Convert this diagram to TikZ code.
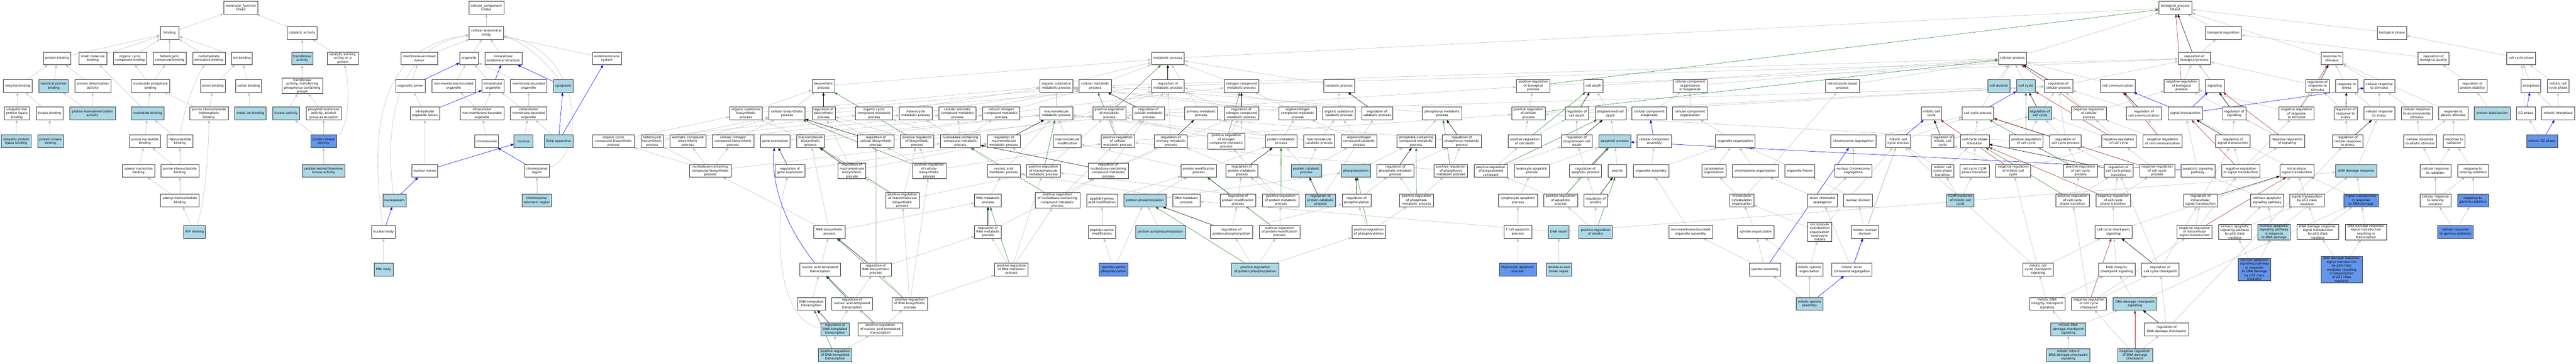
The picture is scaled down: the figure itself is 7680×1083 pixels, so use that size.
\documentclass[tikz,border=0pt]{standalone}
\usepackage{fontspec}
\newfontfamily\gfont{DejaVu Sans}
\usetikzlibrary{arrows.meta,backgrounds}
\definecolor{lbl}{RGB}{173,216,230}
\definecolor{dbl}{RGB}{100,149,237}
\definecolor{egr}{RGB}{192,192,192}
\definecolor{egn}{RGB}{34,139,34}
\definecolor{erd}{RGB}{178,34,34}
\tikzset{
 gw/.style={draw=black!80,line width=0.9pt,fill=white,rectangle,align=center,minimum height=38pt,inner xsep=1.5pt,inner ysep=1.5pt,font=\gfont\fontsize{9.4}{11.4}\selectfont},
 gl/.style={gw,fill=lbl},
 gd/.style={gw,fill=dbl},
 isa/.style={draw=egr,line width=0.9pt,-{Triangle[length=9pt,width=7pt]}},
 partof/.style={draw=blue,line width=0.9pt,-{Triangle[length=9pt,width=7pt]}},
 regl/.style={draw=black,line width=0.9pt,-{Triangle[length=9pt,width=7pt]}},
 posr/.style={draw=egn,line width=0.9pt,-{Triangle[length=9pt,width=7pt]}},
 negr/.style={draw=erd,line width=0.9pt,-{Triangle[length=9pt,width=7pt]}}
}
\begin{document}
\begin{tikzpicture}[x=1pt,y=1pt]
\useasboundingbox (0,0) rectangle (7680,-1083);
% ---------- molecular function ----------
\node[gw,minimum width=102pt] (mf) at (718,-23) {molecular\_function\\Chek2};
\node[gw,minimum width=56pt] (bind) at (505.7,-98) {binding};
\node[gw,minimum width=90pt] (catal) at (900.8,-98) {catalytic activity};
\node[gw,minimum width=81.6pt] (protb) at (170.2,-174) {protein binding};
\node[gw,minimum width=83pt] (smb) at (276.7,-174) {small molecule\\binding};
\node[gw,minimum width=98.8pt] (ocb) at (387.8,-174) {organic cyclic\\compound binding};
\node[gw,minimum width=98.8pt] (hcb) at (505.7,-174) {heterocyclic\\compound binding};
\node[gw,minimum width=97pt] (cdb) at (622.9,-174) {carbohydrate\\derivative binding};
\node[gw,minimum width=61.6pt] (ionb) at (721,-174) {ion binding};
\node[gl,minimum width=63pt] (trans) at (900.8,-174) {transferase\\activity};
\node[gw,minimum width=92.2pt] (catp) at (1022,-174) {catalytic activity,\\acting on a\\protein};
\node[gw,minimum width=86.5pt] (enzb) at (53.1,-256) {enzyme binding};
\node[gl,minimum width=87.8pt] (idpb) at (159.8,-256) {identical protein\\binding};
\node[gw,minimum width=108.6pt] (pda) at (276.7,-256) {protein dimerization\\activity};
\node[gw,minimum width=115.5pt] (npb) at (448.4,-256) {nucleoside phosphate\\binding};
\node[gw,minimum width=73.8pt] (anb) at (634.5,-256) {anion binding};
\node[gw,minimum width=77pt] (catb) at (741,-256) {cation binding};
\node[gw,minimum width=121pt] (tpg) at (901,-256) {transferase\\activity, transferring\\phosphorus-containing\\groups};
\node[gw,minimum width=74.3pt] (ulpl) at (50.2,-338) {ubiquitin-like\\protein ligase\\binding};
\node[gw,minimum width=80pt] (kinb) at (147.3,-338) {kinase binding};
\node[gl,minimum width=136.7pt] (phda) at (275.7,-338) {protein homodimerization\\activity};
\node[gl,minimum width=98.4pt] (nucb) at (439.8,-338) {nucleotide binding};
\node[gw,minimum width=115pt] (prtb) at (622.9,-338) {purine ribonucleoside\\triphosphate\\binding};
\node[gl,minimum width=93.5pt] (metb) at (746.3,-338) {metal ion binding};
\node[gl,minimum width=80pt] (kina) at (853,-338) {kinase activity};
\node[gw,minimum width=105pt] (ptaa) at (964.7,-338) {phosphotransferase\\activity, alcohol\\group as acceptor};
\node[gl,minimum width=88.6pt] (uplb) at (48,-421) {ubiquitin protein\\ligase binding};
\node[gl,minimum width=77pt] (pkb) at (150.4,-421) {protein kinase\\binding};
\node[gw,minimum width=92.7pt] (pnb) at (431.6,-421) {purine nucleotide\\binding};
\node[gw,minimum width=77pt] (rnb) at (536.1,-421) {ribonucleotide\\binding};
\node[gd,minimum width=77pt] (pka) at (964.7,-421) {protein kinase\\activity};
\node[gw,minimum width=96.7pt] (adnb) at (412.9,-509) {adenyl nucleotide\\binding};
\node[gw,minimum width=113pt] (prb) at (536.1,-509) {purine ribonucleotide\\binding};
\node[gl,minimum width=127.8pt] (psk) at (964.7,-509) {protein serine/threonine\\kinase activity};
\node[gw,minimum width=115.5pt] (arb) at (536.1,-597) {adenyl ribonucleotide\\binding};
\node[gl,minimum width=65pt] (atp) at (579.8,-691) {ATP binding};
% ---------- cellular component ----------
\node[gw,minimum width=104.5pt] (cc) at (1449.8,-23) {cellular\_component\\Chek2};
\node[gw,minimum width=102pt] (cae) at (1449.8,-98) {cellular anatomical\\entity};
\node[gw,minimum width=109.4pt] (mel) at (1250.2,-174) {membrane-enclosed\\lumen};
\node[gw,minimum width=56.3pt] (org) at (1398.4,-174) {organelle};
\node[gw,minimum width=111pt] (ias) at (1500.8,-174) {intracellular\\anatomical structure};
\node[gw,minimum width=85.7pt] (ems) at (1809.4,-174) {endomembrane\\system};
\node[gw,minimum width=87.8pt] (ol) at (1223.9,-256) {organelle lumen};
\node[gw,minimum width=129.8pt] (nmbo) at (1352.7,-256) {non-membrane-bounded\\organelle};
\node[gw,minimum width=65pt] (io) at (1469.6,-256) {intracellular\\organelle};
\node[gw,minimum width=108.6pt] (mbo) at (1575.9,-256) {membrane-bounded\\organelle};
\node[gl,minimum width=58.8pt] (cyto) at (1678.8,-256) {cytoplasm};
\node[gw,minimum width=87.7pt] (iol) at (1266.7,-338) {intracellular\\organelle lumen};
\node[gw,minimum width=129.8pt] (inmbo) at (1437.1,-338) {intracellular\\non-membrane-bounded\\organelle};
\node[gw,minimum width=108.6pt] (imbo) at (1575.9,-338) {intracellular\\membrane-bounded\\organelle};
\node[gw,minimum width=70.6pt] (chr) at (1450.8,-421) {chromosome};
\node[gl,minimum width=56.3pt] (nuc) at (1560.4,-421) {nucleus};
\node[gl,minimum width=85.3pt] (golgi) at (1665.1,-421) {Golgi apparatus};
\node[gw,minimum width=77.5pt] (nl) at (1266.5,-509) {nuclear lumen};
\node[gw,minimum width=73.5pt] (chrr) at (1600.4,-509) {chromosomal\\region};
\node[gl,minimum width=69.4pt] (np) at (1175.9,-597) {nucleoplasm};
\node[gl,minimum width=88.2pt] (telo) at (1600.4,-597) {chromosome,\\telomeric region};
\node[gw,minimum width=71pt] (nb) at (1143.3,-691) {nuclear body};
\node[gl,minimum width=56.7pt] (pml) at (1143.5,-803) {PML body};
% ---------- biosynthesis ----------
\node[gw,minimum width=67.8pt] (biosyn) at (2455.1,-256) {biosynthetic\\process};
\node[gw,minimum width=96.3pt] (osbp) at (2224.1,-338) {organic substance\\biosynthetic\\process};
\node[gw,minimum width=108.2pt] (cbp) at (2346.3,-338) {cellular biosynthetic\\process};
\node[gw,minimum width=69.4pt] (rbp) at (2455.1,-338) {regulation of\\biosynthetic\\process};
\node[gw,minimum width=110.6pt] (ocmp) at (2605.9,-338) {organic cyclic\\compound metabolic\\process};
\node[gw,minimum width=123.7pt] (ocbp) at (1829.2,-421) {organic cyclic\\compound biosynthetic\\process};
\node[gw,minimum width=67.4pt] (hbp) at (1944.3,-421) {heterocycle\\biosynthetic\\process};
\node[gw,minimum width=106.5pt] (acbp) at (2050.8,-421) {aromatic compound\\biosynthetic\\process};
\node[gw,minimum width=123.7pt] (cncbp) at (2185.5,-421) {cellular nitrogen\\compound biosynthetic\\process};
\node[gw,minimum width=88.2pt] (gexp) at (2311,-421) {gene expression};
\node[gw,minimum width=83.7pt] (mbp) at (2416.5,-421) {macromolecule\\biosynthetic\\process};
\node[gw,minimum width=108.6pt] (rcbp) at (2611,-421) {regulation of\\cellular biosynthetic\\process};
\node[gw,minimum width=124pt] (ncbp) at (2117.6,-509) {nucleobase-containing\\compound biosynthetic\\process};
\node[gw,minimum width=88.6pt] (rge) at (2354.9,-509) {regulation of\\gene expression};
\node[gw,minimum width=83.2pt] (rmbp) at (2540,-509) {regulation of\\macromolecule\\biosynthetic\\process};
\node[gw,minimum width=93pt] (rnabp) at (2473,-691) {RNA biosynthetic\\process};
\node[gw,minimum width=120.8pt] (nat) at (2444.9,-803) {nucleic acid-templated\\transcription};
\node[gw,minimum width=83.7pt] (dtt) at (2418.6,-905) {DNA-templated\\transcription};
\node[gw,minimum width=121.2pt] (rnat) at (2540.2,-905) {regulation of\\nucleic acid-templated\\transcription};
\node[gl,minimum width=83.7pt] (rdtt) at (2489.6,-981) {regulation of\\DNA-templated\\transcription};
\node[gw,minimum width=134.2pt] (prnat) at (2624.7,-981) {positive regulation\\of nucleic acid-templated\\transcription};
\node[gl,minimum width=100.4pt] (prdtt) at (2489.8,-1058) {positive regulation\\of DNA-templated\\transcription};
% ---------- metabolism ----------
\node[gw,minimum width=97.6pt] (osmp) at (3149.2,-256) {organic substance\\metabolic process};
\node[gw,minimum width=98pt] (hmp) at (2730.2,-338) {heterocycle\\metabolic process};
\node[gw,minimum width=111pt] (camp) at (2854.7,-338) {cellular aromatic\\compound metabolic\\process};
\node[gw,minimum width=111.4pt] (cncmp) at (2985.1,-338) {cellular nitrogen\\compound metabolic\\process};
\node[gw,minimum width=97.6pt] (mmp) at (3149.2,-338) {macromolecule\\metabolic process};
\node[gw,minimum width=99.6pt] (prbp) at (2734.3,-421) {positive regulation\\of biosynthetic\\process};
\node[gw,minimum width=118.4pt] (ncmp) at (2863.3,-421) {nucleobase-containing\\compound metabolic\\process};
\node[gw,minimum width=98pt] (rmmp) at (2992.7,-421) {regulation of\\macromolecule\\metabolic process};
\node[gw,minimum width=83.3pt] (mmod) at (3182,-421) {macromolecule\\modification};
\node[gw,minimum width=100pt] (prcbp) at (2770,-509) {positive regulation\\of cellular\\biosynthetic\\process};
\node[gw,minimum width=98pt] (namp) at (2992.7,-509) {nucleic acid\\metabolic process};
\node[gw,minimum width=100pt] (prmmp) at (3110.8,-509) {positive regulation\\of macromolecule\\metabolic process};
\node[gw,minimum width=100pt] (prmbp) at (2690.4,-597) {positive regulation\\of macromolecule\\biosynthetic\\process};
\node[gw,minimum width=79.6pt] (rnamp) at (2945.5,-597) {RNA metabolic\\process};
\node[gw,minimum width=133.5pt] (prncmp) at (3152.5,-597) {positive regulation\\of nucleobase-containing\\compound metabolic\\process};
\node[gw,minimum width=79.6pt] (rrnamp) at (2945.5,-691) {regulation of\\RNA metabolic\\process};
\node[gw,minimum width=92.2pt] (rrnabp) at (2611,-803) {regulation of\\RNA biosynthetic\\process};
\node[gw,minimum width=100pt] (prrnamp) at (3015.3,-803) {positive regulation\\of RNA metabolic\\process};
\node[gw,minimum width=104.9pt] (prrnabp) at (2712.4,-905) {positive regulation\\of RNA biosynthetic\\process};
\node[gw,minimum width=98pt] (mp) at (3481.6,-174) {metabolic process};
\node[gw,minimum width=96pt] (cmp) at (3265.5,-256) {cellular metabolic\\process};
\node[gw,minimum width=98pt] (rmp) at (3481.6,-256) {regulation of\\metabolic process};
\node[gw,minimum width=102.9pt] (nitmp) at (3701.2,-256) {nitrogen compound\\metabolic process};
\node[gw,minimum width=99.6pt] (prmp) at (3307.3,-338) {positive regulation\\of metabolic\\process};
\node[gw,minimum width=96pt] (rcmp) at (3424.3,-338) {regulation of\\cellular metabolic\\process};
\node[gw,minimum width=98.4pt] (pmp) at (3581,-338) {primary metabolic\\process};
\node[gw,minimum width=102.9pt] (rnitmp) at (3701.2,-338) {regulation of\\nitrogen compound\\metabolic process};
\node[gw,minimum width=111.5pt] (oncmp) at (3868.8,-338) {organonitrogen\\compound metabolic\\process};
\node[gw,minimum width=100pt] (prcmp) at (3332.4,-421) {positive regulation\\of cellular\\metabolic process};
\node[gw,minimum width=98.4pt] (rpmp) at (3490.8,-421) {regulation of\\primary metabolic\\process};
\node[gw,minimum width=110.2pt] (prnitmp) at (3656.3,-421) {positive regulation\\of nitrogen\\compound metabolic\\process};
\node[gw,minimum width=94.7pt] (protmp) at (3819.6,-421) {protein metabolic\\process};
\node[gw,minimum width=119.6pt] (rncmp) at (3304.3,-509) {regulation of\\nucleobase-containing\\compound metabolic\\process};
\node[gw,minimum width=106.5pt] (pmodp) at (3574,-509) {protein modification\\process};
\node[gw,minimum width=94.3pt] (rprotmp) at (3702.2,-509) {regulation of\\protein metabolic\\process};
\node[gw,minimum width=92.2pt] (paam) at (3285.3,-597) {peptidyl-amino\\acid modification};
\node[gl,minimum width=126pt] (pphos) at (3413.7,-597) {protein phosphorylation};
\node[gw,minimum width=81.2pt] (dnamp) at (3537.3,-597) {DNA metabolic\\process};
\node[gw,minimum width=107pt] (rpmodp) at (3690.6,-597) {regulation of\\protein modification\\process};
\node[gw,minimum width=109pt] (prprotmp) at (3818.5,-597) {positive regulation\\of protein metabolic\\process};
\node[gw,minimum width=81.6pt] (psm) at (3285.3,-691) {peptidyl-serine\\modification};
\node[gl,minimum width=149pt] (pauto) at (3459.8,-691) {protein autophosphorylation};
\node[gw,minimum width=126pt] (rpphos) at (3671.2,-691) {regulation of\\protein phosphorylation};
\node[gw,minimum width=121.2pt] (prpmodp) at (3814.5,-691) {positive regulation\\of protein modification\\process};
\node[gd,minimum width=86.5pt] (psp) at (3320,-803) {peptidyl-serine\\phosphorylation};
\node[gl,minimum width=140pt] (prpphos) at (3742.2,-803) {positive regulation\\of protein phosphorylation};
\node[gw,minimum width=92.7pt] (catab) at (3992,-256) {catabolic process};
\node[gw,minimum width=96.3pt] (oscp) at (3991.8,-338) {organic substance\\catabolic process};
\node[gw,minimum width=92.7pt] (rcatp) at (4105.9,-338) {regulation of\\catabolic process};
\node[gw,minimum width=118pt] (phmp) at (4299.4,-338) {phosphorus metabolic\\process};
\node[gw,minimum width=92.7pt] (mcp) at (3932.4,-421) {macromolecule\\catabolic process};
\node[gw,minimum width=107.3pt] (onccp) at (4051.6,-421) {organonitrogen\\compound catabolic\\process};
\node[gw,minimum width=115pt] (pccmp) at (4222,-421) {phosphate-containing\\compound metabolic\\process};
\node[gw,minimum width=117.6pt] (rphmp) at (4358,-421) {regulation of\\phosphorus metabolic\\process};
\node[gl,minimum width=90.2pt] (pcp) at (3894.5,-509) {protein catabolic\\process};
\node[gl,minimum width=86.5pt] (phos) at (4042.4,-509) {phosphorylation};
\node[gw,minimum width=111pt] (rpcmp) at (4160.4,-509) {regulation of\\phosphate metabolic\\process};
\node[gw,minimum width=100pt] (prphmp) at (4325.5,-509) {positive regulation\\of phosphorus\\metabolic process};
\node[gw,minimum width=100.4pt] (prpcd) at (4444.5,-509) {positive regulation\\of programmed\\cell death};
\node[gl,minimum width=89.8pt] (rpcp) at (3936.7,-597) {regulation of\\protein catabolic\\process};
\node[gw,minimum width=86pt] (rphos) at (4044.3,-597) {regulation of\\phosphorylation};
\node[gw,minimum width=100.4pt] (prpcmp) at (4222.9,-597) {positive regulation\\of phosphate\\metabolic process};
\node[gw,minimum width=116pt] (lap) at (4525.3,-597) {lymphocyte apoptotic\\process};
\node[gw,minimum width=100.8pt] (prphos) at (4080.6,-691) {positive regulation\\of phosphorylation};
\node[gd,minimum width=111pt] (thap) at (4524.9,-803) {thymocyte apoptotic\\process};
% ---------- cell death / organization ----------
\node[gw,minimum width=100.4pt] (prbio) at (4571,-256) {positive regulation\\of biological\\process};
\node[gw,minimum width=56.7pt] (cd) at (4750.8,-256) {cell death};
\node[gw,minimum width=101.6pt] (ccob) at (5038.6,-256) {cellular component\\organization\\or biogenesis};
\node[gw,minimum width=100pt] (prcp) at (4556.5,-338) {positive regulation\\of cellular\\process};
\node[gw,minimum width=69.4pt] (rcd) at (4700.8,-338) {regulation of\\cell death};
\node[gw,minimum width=92.2pt] (pcd) at (4801.2,-338) {programmed cell\\death};
\node[gw,minimum width=102.9pt] (ccb) at (4917.1,-338) {cellular component\\biogenesis};
\node[gw,minimum width=102.4pt] (cco) at (5038.2,-338) {cellular component\\organization};
\node[gw,minimum width=100.4pt] (prcd) at (4546.1,-421) {positive regulation\\of cell death};
\node[gw,minimum width=92.2pt] (rpcd) at (4700.8,-421) {regulation of\\programmed cell\\death};
\node[gl,minimum width=94.7pt] (ap) at (4813.9,-421) {apoptotic process};
\node[gw,minimum width=102.4pt] (cca) at (4932,-421) {cellular component\\assembly};
\node[gw,minimum width=119.2pt] (oo) at (5173.1,-421) {organelle organization};
\node[gw,minimum width=104.9pt] (lkap) at (4567.1,-509) {leukocyte apoptotic\\process};
\node[gw,minimum width=94.7pt] (rap) at (4726.9,-509) {regulation of\\apoptotic process};
\node[gw,minimum width=56.3pt] (anoi) at (4822,-509) {anoikis};
\node[gw,minimum width=105.3pt] (oa) at (4922.4,-509) {organelle assembly};
\node[gw,minimum width=72.3pt] (cso) at (5109.2,-509) {cytoskeleton\\organization};
\node[gw,minimum width=100.4pt] (prap) at (4652.7,-597) {positive regulation\\of apoptotic\\process};
\node[gw,minimum width=69.8pt] (ranoi) at (4757.3,-597) {regulation of\\anoikis};
\node[gw,minimum width=84pt] (tcap) at (4525.3,-691) {T cell apoptotic\\process};
\node[gl,minimum width=61.2pt] (dnar) at (4647.3,-691) {DNA repair};
\node[gl,minimum width=100.4pt] (pranoi) at (4757.1,-691) {positive regulation\\of anoikis};
\node[gw,minimum width=129.8pt] (nmboa) at (5040.4,-691) {non-membrane-bounded\\organelle assembly};
\node[gl,minimum width=75.5pt] (dsbr) at (4647.6,-803) {double-strand\\break repair};
\node[gw,minimum width=100.4pt] (mtbp) at (5493,-256) {microtubule-based\\process};
\node[gw,minimum width=60.4pt] (mcc) at (5758.4,-338) {mitotic cell\\cycle};
\node[gw,minimum width=134.3pt] (cseg) at (5525.5,-421) {chromosome segregation};
\node[gw,minimum width=73.5pt] (mccp) at (5659.2,-421) {mitotic cell\\cycle process};
\node[gw,minimum width=67.3pt] (rmcc) at (5791.6,-421) {regulation of\\mitotic cell\\cycle};
\node[gw,minimum width=138.4pt] (chro) at (5232.9,-509) {chromosome organization};
\node[gw,minimum width=89pt] (ofis) at (5365.7,-509) {organelle fission};
\node[gw,minimum width=111.4pt] (ncs) at (5525.5,-509) {nuclear chromosome\\segregation};
\node[gw,minimum width=65.3pt] (mccpt) at (5791.9,-509) {mitotic cell\\cycle phase\\transition};
\node[gw,minimum width=71pt] (mco) at (5193,-597) {microtubule\\cytoskeleton\\organization};
\node[gw,minimum width=88.2pt] (scs) at (5433.5,-597) {sister chromatid\\segregation};
\node[gw,minimum width=86pt] (nd) at (5539.4,-597) {nuclear division};
\node[gw,minimum width=108.6pt] (so) at (5234.7,-691) {spindle organization};
\node[gw,minimum width=71.4pt] (mcoim) at (5425.1,-691) {microtubule\\cytoskeleton\\organization\\involved in\\mitosis};
\node[gw,minimum width=81.6pt] (mnd) at (5560,-691) {mitotic nuclear\\division};
\node[gw,minimum width=94.3pt] (sa) at (5261.8,-803) {spindle assembly};
\node[gw,minimum width=80pt] (mso) at (5394.7,-803) {mitotic spindle\\organization};
\node[gw,minimum width=120pt] (mscs) at (5521.2,-803) {mitotic sister\\chromatid segregation};
\node[gl,minimum width=80pt] (msa) at (5394.7,-905) {mitotic spindle\\assembly};
% ---------- cell cycle ----------
\node[gw,minimum width=83.7pt] (cp) at (5999.8,-174) {cellular process};
\node[gl,minimum width=65.3pt] (cdiv) at (5959.2,-256) {cell division};
\node[gl,minimum width=56pt] (ccyc) at (6039.8,-256) {cell cycle};
\node[gw,minimum width=84.5pt] (rcp) at (6136.9,-256) {regulation of\\cellular process};
\node[gw,minimum width=105pt] (ccom) at (6313.7,-256) {cell communication};
\node[gw,minimum width=93.9pt] (ccp) at (5896.7,-338) {cell cycle process};
\node[gl,minimum width=69.4pt] (rcc) at (6081.6,-338) {regulation of\\cell cycle};
\node[gw,minimum width=104pt] (nrcp) at (6227.6,-338) {negative regulation\\of cellular\\process};
\node[gw,minimum width=104.4pt] (rccom) at (6391.8,-338) {regulation of\\cell communication};
\node[gw,minimum width=85.3pt] (ccpt) at (5887.6,-421) {cell cycle phase\\transition};
\node[gw,minimum width=100pt] (prcc) at (6040.6,-421) {positive regulation\\of cell cycle};
\node[gw,minimum width=93.9pt] (rccp) at (6158,-421) {regulation of\\cell cycle process};
\node[gw,minimum width=104pt] (nrcc) at (6317,-421) {negative regulation\\of cell cycle};
\node[gw,minimum width=117.5pt] (nrccom) at (6447.3,-421) {negative regulation\\of cell communication};
\node[gw,minimum width=86.5pt] (g2mpt) at (5886.9,-509) {cell cycle G2/M\\phase transition};
\node[gw,minimum width=104.5pt] (nrmcc) at (6002,-509) {negative regulation\\of mitotic cell\\cycle};
\node[gw,minimum width=100pt] (prccp) at (6202.7,-509) {positive regulation\\of cell cycle\\process};
\node[gw,minimum width=86pt] (rccpt) at (6315.7,-509) {regulation of\\cell cycle phase\\transition};
\node[gw,minimum width=104.9pt] (nrccp) at (6431.2,-509) {negative regulation\\of cell cycle\\process};
\node[gl,minimum width=81.6pt] (g2m) at (5844.5,-597) {G2/M transition\\of mitotic cell\\cycle};
\node[gw,minimum width=100.4pt] (prccpt) at (6178.8,-597) {positive regulation\\of cell cycle\\phase transition};
\node[gw,minimum width=104pt] (nrccpt) at (6300.2,-597) {negative regulation\\of cell cycle\\phase transition};
\node[gw,minimum width=111.4pt] (cccs) at (6301,-691) {cell cycle checkpoint\\signaling};
\node[gw,minimum width=89.8pt] (mcccs) at (6076.3,-803) {mitotic cell\\cycle checkpoint\\signaling};
\node[gw,minimum width=109pt] (dics) at (6310.4,-803) {DNA integrity\\checkpoint signaling};
\node[gw,minimum width=111.8pt] (rcccs) at (6440.4,-803) {regulation of\\cell cycle checkpoint};
\node[gw,minimum width=106pt] (mdics) at (6103.3,-905) {mitotic DNA\\integrity checkpoint\\signaling};
\node[gw,minimum width=104pt] (nrcccs) at (6227.6,-905) {negative regulation\\of cell cycle\\checkpoint};
\node[gl,minimum width=129.8pt] (ddcs) at (6364.9,-905) {DNA damage checkpoint\\signaling};
\node[gl,minimum width=105pt] (mddcs) at (6166.3,-981) {mitotic DNA\\damage checkpoint\\signaling};
\node[gw,minimum width=131pt] (rddc) at (6459.4,-981) {regulation of\\DNA damage checkpoint};
\node[gl,minimum width=129.4pt] (mis) at (6166.3,-1058) {mitotic intra-S\\DNA damage checkpoint\\signaling};
\node[gl,minimum width=104.4pt] (nrddc) at (6364.9,-1058) {negative regulation\\of DNA damage\\checkpoint};
% ---------- signaling / response ----------
\node[gw,minimum width=98.8pt] (bp) at (6485.3,-23) {biological\_process\\Chek2};
\node[gw,minimum width=108.2pt] (breg) at (6628.4,-98) {biological regulation};
\node[gw,minimum width=95.5pt] (rbio) at (6542.4,-174) {regulation of\\biological process};
\node[gw,minimum width=65.3pt] (rts) at (6952.2,-174) {response to\\stimulus};
\node[gw,minimum width=104pt] (nrbio) at (6503.9,-256) {negative regulation\\of biological\\process};
\node[gw,minimum width=56.3pt] (sig) at (6602.9,-256) {signaling};
\node[gw,minimum width=69.4pt] (rrts) at (6909.4,-256) {regulation of\\response to\\stimulus};
\node[gw,minimum width=65pt] (rtstr) at (6996.1,-256) {response to\\stress};
\node[gw,minimum width=102.4pt] (st) at (6515.3,-338) {signal transduction};
\node[gw,minimum width=69pt] (rsig) at (6660.6,-338) {regulation of\\signaling};
\node[gw,minimum width=104pt] (nrrts) at (6846.7,-338) {negative regulation\\of response\\to stimulus};
\node[gw,minimum width=68.6pt] (rrtstr) at (6993,-338) {regulation of\\response to\\stress};
\node[gw,minimum width=102pt] (rst) at (6656.7,-421) {regulation of\\signal transduction};
\node[gw,minimum width=103.3pt] (nrsig) at (6818.6,-421) {negative regulation\\of signaling};
\node[gw,minimum width=91.4pt] (rcrs) at (6999.2,-421) {regulation of\\cellular response\\to stress};
\node[gw,minimum width=101.6pt] (asp) at (6552.4,-509) {apoptotic signaling\\pathway};
\node[gw,minimum width=114.7pt] (nrst) at (6680.6,-509) {negative regulation\\of signal transduction};
\node[gw,minimum width=102pt] (ist) at (6847.8,-509) {intracellular\\signal transduction};
\node[gl,minimum width=121.6pt] (ddr) at (7024.5,-509) {DNA damage response};
\node[gw,minimum width=101.6pt] (rist) at (6560.2,-597) {regulation of\\intracellular\\signal transduction};
\node[gw,minimum width=97.6pt] (iasp) at (6759,-597) {intrinsic apoptotic\\signaling pathway};
\node[gw,minimum width=102pt] (stp53) at (6878,-597) {signal transduction\\by p53 class\\mediator};
\node[gd,minimum width=102.4pt] (stdd) at (7039,-597) {signal transduction\\in response\\to DNA damage};
\node[gw,minimum width=104pt] (nrist) at (6542.7,-691) {negative regulation\\of intracellular\\signal transduction};
\node[gw,minimum width=98pt] (iaspp53) at (6662.9,-691) {intrinsic apoptotic\\signaling pathway\\by p53 class\\mediator};
\node[gl,minimum width=98pt] (iaspdd) at (6779.6,-691) {intrinsic apoptotic\\signaling pathway\\in response\\to DNA damage};
\node[gw,minimum width=123.3pt] (ddrp53) at (6910.2,-691) {DNA damage response,\\signal transduction\\by p53 class\\mediator};
\node[gw,minimum width=123.7pt] (ddrtr) at (7053.7,-691) {DNA damage response,\\signal transduction\\resulting in\\transcription};
\node[gd,minimum width=98pt] (iaspddp53) at (6721.2,-803) {intrinsic apoptotic\\signaling pathway\\in response\\to DNA damage\\by p53 class\\mediator};
\node[gd,minimum width=123.7pt] (ddrp21) at (6981.5,-803) {DNA damage response,\\signal transduction\\by p53 class\\mediator resulting\\in transcription\\of p21 class\\mediator};
\node[gw,minimum width=87.8pt] (bph) at (7131.2,-98) {biological phase};
\node[gw,minimum width=91.8pt] (rbq) at (7255.3,-174) {regulation of\\biological quality};
\node[gw,minimum width=86.1pt] (ccph) at (7516.5,-174) {cell cycle phase};
\node[gw,minimum width=91.4pt] (crstim) at (7093.5,-256) {cellular response\\to stimulus};
\node[gw,minimum width=85.7pt] (rps) at (7371.4,-256) {regulation of\\protein stability};
\node[gw,minimum width=58.4pt] (inter) at (7545.9,-256) {interphase};
\node[gw,minimum width=65.3pt] (mccph) at (7626.5,-256) {mitotic cell\\cycle phase};
\node[gw,minimum width=91.8pt] (crstr) at (7093.3,-338) {cellular response\\to stress};
\node[gw,minimum width=92.2pt] (cres) at (7205.3,-338) {cellular response\\to environmental\\stimulus};
\node[gw,minimum width=86.5pt] (rabs) at (7313.9,-338) {response to\\abiotic stimulus};
\node[gl,minimum width=106.5pt] (pstab) at (7430,-338) {protein stabilization};
\node[gw,minimum width=56.3pt] (g2) at (7530.2,-338) {G2 phase};
\node[gw,minimum width=97.6pt] (mint) at (7626.7,-338) {mitotic interphase};
\node[gw,minimum width=98.4pt] (cras) at (7214.9,-421) {cellular response\\to abiotic stimulus};
\node[gw,minimum width=64.5pt] (rrad) at (7315.9,-421) {response to\\radiation};
\node[gd,minimum width=91.8pt] (mg2) at (7578.6,-421) {mitotic G2 phase};
\node[gw,minimum width=92.2pt] (crrad) at (7260.8,-509) {cellular response\\to radiation};
\node[gw,minimum width=91.8pt] (rir) at (7372.9,-509) {response to\\ionizing radiation};
\node[gw,minimum width=92.2pt] (crir) at (7260.8,-597) {cellular response\\to ionizing\\radiation};
\node[gd,minimum width=92.2pt] (rgr) at (7372.9,-597) {response to\\gamma radiation};
\node[gd,minimum width=105.7pt] (crgr) at (7320.2,-691) {cellular response\\to gamma radiation};
% ---------- edges ----------
\begin{scope}[on background layer]
\fill[white] (0,0) rectangle (7680,-1083);
\foreach \a/\b in {bind/mf,catal/mf,protb/bind,smb/bind,ocb/bind,hcb/bind,cdb/bind,ionb/bind,trans/catal,catp/catal,enzb/protb,idpb/protb,pda/protb,npb/ocb,npb/hcb,anb/ionb,catb/ionb,tpg/trans,ulpl/enzb,kinb/enzb,phda/idpb,phda/pda,nucb/npb,nucb/smb,prtb/npb,prtb/anb,metb/catb,kina/tpg,ptaa/tpg,uplb/ulpl,pkb/kinb,pnb/nucb,rnb/nucb,pka/kina,pka/ptaa,adnb/pnb,prb/pnb,prb/rnb,psk/pka,arb/adnb,arb/prb,atp/arb}
  \draw[isa] (\a) -- (\b);
\draw[isa] (rnb) .. controls (545,-330) and (585,-230) .. (cdb);
\draw[isa] (pka) .. controls (1040,-390) and (1045,-260) .. (catp);
\draw[isa] (atp) .. controls (612,-600) and (622,-450) .. (prtb);
\foreach \a/\b in {cae/cc,mel/cae,org/cae,ias/cae,ems/cae,ol/mel,nmbo/org,io/org,mbo/org,iol/ol,inmbo/nmbo,inmbo/io,imbo/io,imbo/mbo,chr/inmbo,nuc/imbo,golgi/imbo,nl/iol,telo/chrr,pml/nb}
  \draw[isa] (\a) -- (\b);
\draw[isa] (nb) .. controls (1108,-420) and (1110,-140) .. (cae);
\draw[isa] (np) .. controls (1150,-420) and (1160,-140) .. (cae);
\draw[isa] (chrr) .. controls (1745,-470) and (1745,-150) .. (cae);
\draw[isa] (cyto) .. controls (1640,-200) and (1570,-125) .. (cae);
\foreach \a/\b in {breg/bp,cp/bp,mp/bp,rts/bp,bph/bp,sig/rbio,rbio/breg,nrbio/rbio,rcp/rbio,prbio/rbio,rmp/rbio,rbq/breg,cdiv/cp,ccyc/cp,ccom/cp,ccp/cp,cd/cp,ccob/cp,mtbp/cp,cmp/cp,cmp/mp,nitmp/mp,pmp/mp,osmp/mp,biosyn/mp,catab/mp,osbp/biosyn,cbp/biosyn,osbp/osmp,cbp/cmp,ocbp/osbp,ocbp/ocmp,hbp/cbp,hbp/hmp,acbp/cbp,acbp/camp,cncbp/cbp,cncbp/cncmp,mbp/osbp,mbp/mmp,gexp/mmp,ncbp/hbp,ncbp/acbp,ncbp/cncbp,ncbp/ocbp,ncbp/ncmp,rnabp/ncbp,rnabp/mbp,rnabp/rnamp,nat/rnabp,dtt/nat,ocmp/osmp,hmp/cmp,camp/cmp,cncmp/cmp,cncmp/nitmp,mmp/osmp,ncmp/hmp,ncmp/camp,ncmp/cncmp,ncmp/ocmp,namp/ncmp,namp/mmp,rnamp/namp,dnamp/namp,mmod/mmp,oncmp/osmp,oncmp/nitmp,protmp/oncmp,protmp/pmp,protmp/mmp,pmodp/protmp,pmodp/mmod,paam/pmodp,pphos/pmodp,pphos/phos,psm/paam,psp/psm,psp/pphos,pauto/pphos,phos/pccmp,pccmp/phmp,phmp/cmp,oscp/catab,oscp/osmp,mcp/oscp,mcp/mmp,onccp/oscp,onccp/oncmp,pcp/mcp,pcp/onccp,pcp/protmp}
  \draw[isa] (\a) -- (\b);
\foreach \a/\b in {rbp/rmp,rcbp/rbp,rcbp/rcmp,rmbp/rbp,rmbp/rmmp,rge/rmmp,rmmp/rmp,rcmp/rmp,rcmp/rcp,rpmp/rmp,rnitmp/rmp,rncmp/rcmp,rncmp/rpmp,rncmp/rnitmp,rrnamp/rncmp,rrnabp/rcbp,rrnabp/rrnamp,rnat/rrnabp,rdtt/rnat,rprotmp/rpmp,rprotmp/rnitmp,rpmodp/rprotmp,rpphos/rpmodp,rpphos/rphos,rphos/rpcmp,rpcmp/rphmp,rphmp/rcmp,rcatp/rmp,rpcp/rcatp,rpcp/rprotmp,prmp/rmp,prmp/prbio,prcmp/prmp,prcmp/rcmp,prcmp/prcp,prbp/rbp,prbp/prmp,prcbp/prbp,prcbp/rcbp,prcbp/prcmp,prmbp/rmbp,prmbp/prbp,prmbp/prmmp,prmmp/rmmp,prmmp/prmp,prnitmp/rnitmp,prnitmp/prmp,prncmp/rncmp,prncmp/prcmp,prrnamp/rrnamp,prrnamp/prncmp,prrnamp/prmmp,prrnabp/rrnabp,prrnabp/prmbp,prrnabp/prcbp,prrnabp/prrnamp,prnat/rnat,prnat/prrnabp,prdtt/rdtt,prdtt/prnat,prprotmp/rprotmp,prprotmp/prnitmp,prprotmp/prmmp,prpmodp/rpmodp,prpmodp/prprotmp,prpphos/rpphos,prpphos/prpmodp,prpphos/prphos,prphos/rphos,prphos/prpcmp,prpcmp/rpcmp,prpcmp/prphmp,prphmp/rphmp,prphmp/prcmp}
  \draw[isa] (\a) -- (\b);
\draw[isa] (rdtt) .. controls (2300,-960) and (2315,-620) .. (rge);
\foreach \a/\b in {pcd/cd,ap/pcd,anoi/ap,lkap/ap,lap/lkap,tcap/lap,thap/tcap,rcd/rcp,prcp/prbio,prcp/rcp,prcd/prcp,prcd/rcd,rpcd/rcd,prpcd/prcd,prpcd/rpcd,rap/rpcd,prap/rap,prap/prpcd,ranoi/rap,pranoi/ranoi,pranoi/prap,dsbr/dnar,dnar/dnamp,dnar/ddr,ccb/ccob,cco/ccob,oa/cca,oa/oo,oo/cco,nmboa/oa,cso/oo,chro/oo,ofis/oo,mco/cso,mco/mtbp,so/mco,sa/so,sa/nmboa,mcoim/mco,mcoim/mccp,mso/so,mso/mcoim,msa/sa,msa/mso,cseg/ccp,ncs/cseg,scs/ncs,scs/chro,nd/ofis,mnd/nd,mnd/mccp,mscs/scs,mscs/mccp,mccp/ccp,mccpt/ccpt,mccpt/mccp,ccpt/ccp,g2mpt/ccpt,g2m/mccpt,g2m/g2mpt}
  \draw[isa] (\a) -- (\b);
\foreach \a/\b in {rcc/rcp,rmcc/rcc,rccp/rcc,rccp/rcp,prcc/rcc,prcc/prcp,nrcp/rcp,nrcp/nrbio,nrcc/rcc,nrcc/nrcp,rccom/rcp,nrccom/rccom,nrccom/nrcp,nrmcc/rmcc,nrmcc/nrcc,prccp/rccp,prccp/prcc,rccpt/rccp,nrccp/rccp,nrccp/nrcc,prccpt/prccp,prccpt/rccpt,nrccpt/rccpt,nrccpt/nrccp,cccs/nrccpt,cccs/ist,mcccs/cccs,mcccs/nrmcc,mcccs/mccp,dics/cccs,mdics/mcccs,mdics/dics,ddcs/dics,ddcs/stdd,mddcs/mdics,mddcs/ddcs,mis/mddcs,rcccs/rccpt,rcccs/rist,nrcccs/rcccs,nrcccs/prccpt,nrcccs/nrist,nrddc/nrcccs,nrddc/rddc,rddc/rcccs,rddc/rcrs}
  \draw[isa] (\a) -- (\b);
\foreach \a/\b in {rsig/rbio,rst/rsig,nrsig/rsig,nrsig/nrbio,nrst/rst,nrst/nrsig,nrst/nrrts,nrrts/rrts,nrrts/nrbio,rrts/rbio,rtstr/rts,rrtstr/rrts,rcrs/rrtstr,asp/st,ist/st,rist/rst,nrist/rist,nrist/nrst,iasp/asp,iasp/ist,stp53/ist,stdd/ist,stdd/ddr,iaspp53/iasp,iaspp53/stp53,iaspdd/iasp,iaspdd/ddr,ddrp53/stp53,ddrp53/stdd,ddrtr/stdd,iaspddp53/iaspp53,iaspddp53/iaspdd,ddrp21/ddrp53,ddrp21/ddrtr,ddr/crstr,crstim/rts,crstr/crstim,crstr/rtstr,cres/crstim,rabs/rts,cras/cres,cras/rabs,rrad/rabs,crrad/cras,crrad/rrad,rir/rrad,crir/crrad,crir/rir,rgr/rir,crgr/crir,crgr/rgr,ccph/bph,inter/ccph,mccph/ccph,g2/ccph,mint/inter,mint/mccph,mg2/g2,rps/rbq,pstab/rps}
  \draw[isa] (\a) -- (\b);
\foreach \a/\b in {ol/org,io/ias,cyto/ias,iol/io,golgi/cyto,golgi/ems,nl/nuc,chrr/chr,np/nl,nb/np,cca/ccb,asp/ap,ccp/ccyc,mccp/mcc,msa/mscs,mscs/mnd,sa/cseg,st/sig,st/crstim,st/ccom,g2/inter,mg2/mint}
  \draw[partof] (\a) -- (\b);
\draw[partof] (nat) .. controls (2330,-660) and (2298,-530) .. (gexp);
\foreach \a/\b in {rmp/mp,rbp/biosyn,rcbp/cbp,rmbp/mbp,rge/gexp,rrnabp/rnabp,rnat/nat,rdtt/dtt,rmmp/mmp,rncmp/ncmp,rrnamp/rnamp,rcmp/cmp,rpmp/pmp,rnitmp/nitmp,rprotmp/protmp,rpmodp/pmodp,rpphos/pphos,rcatp/catab,rpcp/pcp,rphos/phos,rpcmp/pccmp,rphmp/phmp,rcd/cd,rpcd/pcd,rap/ap,ranoi/anoi,rbio/bp,rcp/cp,rcc/ccyc,rmcc/mcc,rccp/ccp,rccpt/ccpt,rccom/ccom,rcccs/cccs,rddc/ddcs,rsig/sig,rst/st,rrts/rts,rrtstr/rtstr,rcrs/crstr,rist/ist}
  \draw[regl] (\a) -- (\b);
\foreach \a/\b in {prbio/bp,prcp/cp,prmp/mp,prbp/biosyn,prcbp/cbp,prmbp/mbp,prrnabp/rnabp,prnat/nat,prdtt/dtt,prmmp/mmp,prncmp/ncmp,prrnamp/rnamp,prcmp/cmp,prnitmp/nitmp,prprotmp/protmp,prpmodp/pmodp,prpphos/pphos,prphos/phos,prpcmp/pccmp,prphmp/phmp,prcd/cd,prpcd/pcd,prap/ap,pranoi/anoi,prcc/ccyc,prccp/ccp,prccpt/ccpt}
  \draw[posr] (\a) -- (\b);
\foreach \a/\b in {nrbio/bp,nrcp/cp,nrcc/ccyc,nrmcc/mcc,nrccp/ccp,nrccpt/ccpt,nrcccs/cccs,nrddc/ddcs,nrccom/ccom,nrsig/sig,nrst/st,nrrts/rts,nrist/ist}
  \draw[negr] (\a) -- (\b);
\end{scope}
\end{tikzpicture}
\end{document}
